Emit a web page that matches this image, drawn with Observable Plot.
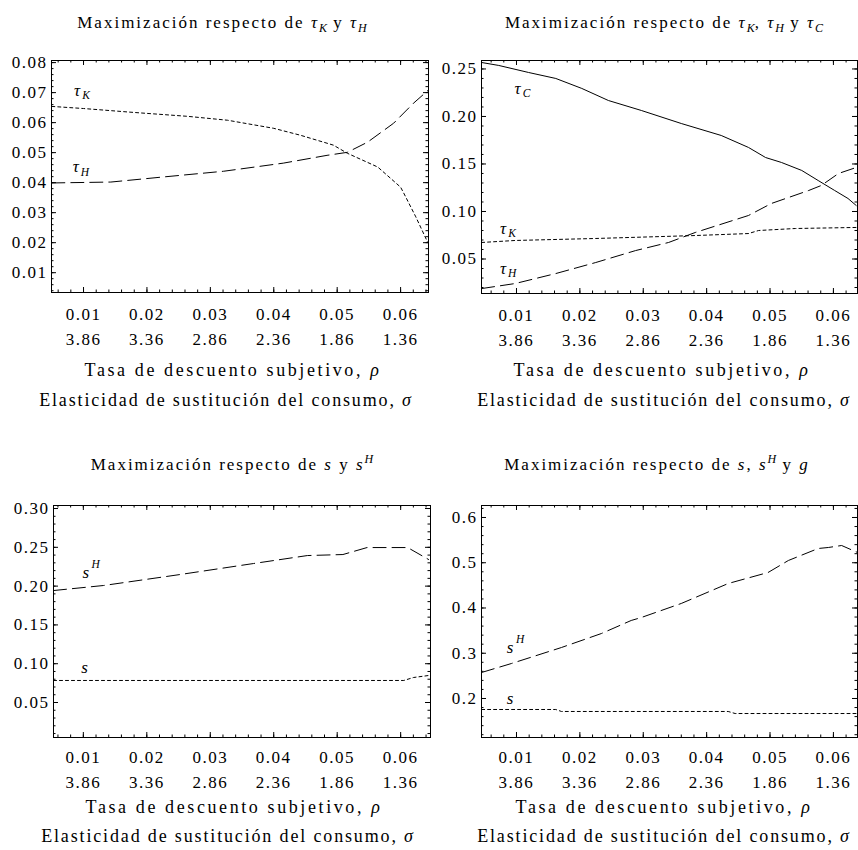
<!DOCTYPE html>
<html><head><meta charset="utf-8">
<script src="https://cdn.jsdelivr.net/npm/d3@7"></script>
<script src="https://cdn.jsdelivr.net/npm/@observablehq/plot@0.6"></script>
<style>
body{margin:0;background:#fff;}
#wrap{position:relative;width:858px;height:850px;font-family:'Liberation Serif','Times New Roman',serif;font-size:17px;letter-spacing:1.5px;color:#000;overflow:hidden;}
#wrap svg{position:absolute;}
.t{position:absolute;white-space:nowrap;transform:translate(-50%,-50%);line-height:1;}
.t sub{font-size:12px;vertical-align:-4px;line-height:0;letter-spacing:0;}
.t sup{font-size:12px;vertical-align:7px;line-height:0;letter-spacing:0;}
.title{letter-spacing:2px;}
.ax1{font-size:18px;letter-spacing:2.6px;}
.ax2{font-size:18px;letter-spacing:1.85px;}
</style></head><body><div id="wrap"></div>
<script>
// ---- shared tick labels ----
const rhoTicks = [0.01, 0.02, 0.03, 0.04, 0.05, 0.06];
const sigmaLabels = ["3.86", "3.36", "2.86", "2.36", "1.86", "1.36"];

// ---- panel 1: Maximización respecto de tau_K y tau_H ----
const p1_yTicks = [0.01, 0.02, 0.03, 0.04, 0.05, 0.06, 0.07, 0.08];
const p1_tauK_x = [0.005, 0.01, 0.0179, 0.0264, 0.0327, 0.04, 0.0442, 0.0494, 0.0516, 0.0564, 0.06, 0.0605, 0.0624, 0.0643];
const p1_tauK_y = [0.0654, 0.0647, 0.0634, 0.0621, 0.0608, 0.0581, 0.0558, 0.0525, 0.0498, 0.0452, 0.0385, 0.0365, 0.0286, 0.020];
const p1_tauH_x = [0.005, 0.0143, 0.0221, 0.0321, 0.0415, 0.0484, 0.0516, 0.0548, 0.0589, 0.062, 0.0643];
const p1_tauH_y = [0.0399, 0.0402, 0.0418, 0.0438, 0.0465, 0.0491, 0.0501, 0.0535, 0.0598, 0.0664, 0.0707];

// ---- panel 2: Maximización respecto de tau_K, tau_H y tau_C ----
const p2_yTicks = [0.05, 0.10, 0.15, 0.20, 0.25];
const p2_tauC_x = [0.0045, 0.0072, 0.0119, 0.0162, 0.0203, 0.0245, 0.0297, 0.036, 0.0423, 0.0466, 0.0493, 0.0518, 0.055, 0.0576, 0.0602, 0.0623, 0.0636];
const p2_tauC_y = [0.2568, 0.2537, 0.2463, 0.240, 0.2295, 0.2168, 0.2063, 0.1926, 0.180, 0.1674, 0.1568, 0.1516, 0.1432, 0.1326, 0.1221, 0.1137, 0.1063];
const p2_tauH_x = [0.0045, 0.0098, 0.0162, 0.0225, 0.0288, 0.034, 0.0382, 0.0466, 0.0502, 0.0561, 0.0581, 0.0608, 0.0636];
const p2_tauH_y = [0.0189, 0.0242, 0.0347, 0.0463, 0.0589, 0.0674, 0.0779, 0.0958, 0.1084, 0.1221, 0.1274, 0.140, 0.1463];
const p2_tauK_x = [0.0045, 0.0098, 0.0225, 0.0382, 0.0466, 0.0482, 0.054, 0.0636];
const p2_tauK_y = [0.0674, 0.0695, 0.0716, 0.0747, 0.0768, 0.080, 0.0821, 0.0832];

// ---- panel 3: Maximización respecto de s y s^H ----
const p3_yTicks = [0.05, 0.10, 0.15, 0.20, 0.25, 0.30];
const p3_sH_x = [0.0053, 0.0132, 0.0253, 0.0368, 0.0453, 0.0509, 0.0547, 0.0611, 0.0644];
const p3_sH_y = [0.1943, 0.2008, 0.215, 0.2291, 0.2394, 0.2407, 0.2497, 0.2497, 0.2343];
const p3_s_x = [0.0053, 0.0605, 0.062, 0.0644];
const p3_s_y = [0.0784, 0.0784, 0.0822, 0.0848];

// ---- panel 4: Maximización respecto de s, s^H y g ----
const p4_yTicks = [0.2, 0.3, 0.4, 0.5, 0.6];
const p4_sH_x = [0.0045, 0.0092, 0.0171, 0.0234, 0.0281, 0.0297, 0.036, 0.0434, 0.0497, 0.0529, 0.0576, 0.0592, 0.0613, 0.0638];
const p4_sH_y = [0.2575, 0.2773, 0.3127, 0.3436, 0.3724, 0.379, 0.410, 0.4541, 0.4785, 0.505, 0.5315, 0.5337, 0.5381, 0.5227];
const p4_s_x = [0.0045, 0.0162, 0.0171, 0.0434, 0.0445, 0.0638];
const p4_s_y = [0.1757, 0.1757, 0.1713, 0.1713, 0.1668, 0.1668];

const zip = (xs, ys) => xs.map((x, i) => ({x, y: ys[i]}));
const FONT = "'Liberation Serif', 'Times New Roman', serif";
const DOT = "3,3", DASH = "13,6";

function panel(cfg) {
  const W = cfg.width - cfg.mL - cfg.mR, H = cfg.height - cfg.mT - cfg.mB;
  const inX = d => d >= cfg.xDomain[0] && d <= cfg.xDomain[1];
  const inY = d => d >= cfg.yDomain[0] && d <= cfg.yDomain[1];
  const xMinor = d3.range(0.004, 0.066, 0.002).filter(inX);
  const yMinor = d3.range(cfg.yDomain[0] - cfg.yMinorStep, cfg.yDomain[1] + cfg.yMinorStep, cfg.yMinorStep)
    .map(v => Math.round(v / cfg.yMinorStep) * cfg.yMinorStep).filter(inY);
  const st = {stroke: "black", strokeWidth: 1};
  const marks = [
    Plot.tickX(xMinor, {x: d => d, insetTop: H - 2.5, ...st}),
    Plot.tickX(xMinor, {x: d => d, insetBottom: H - 2.5, ...st}),
    Plot.tickX(rhoTicks, {x: d => d, insetTop: H - 5, ...st}),
    Plot.tickX(rhoTicks, {x: d => d, insetBottom: H - 5, ...st}),
    Plot.tickY(yMinor, {y: d => d, insetRight: W - 2.5, ...st}),
    Plot.tickY(yMinor, {y: d => d, insetLeft: W - 2.5, ...st}),
    Plot.tickY(cfg.yTicks, {y: d => d, insetRight: W - 5, ...st}),
    Plot.tickY(cfg.yTicks, {y: d => d, insetLeft: W - 5, ...st}),
    Plot.frame({stroke: "black", strokeWidth: 1}),
    Plot.axisX({ticks: rhoTicks, tickSize: 0, tickPadding: cfg.pad1, tickFormat: d3.format(".2f"), label: null, fontSize: 17}),
    Plot.axisX({ticks: rhoTicks, tickSize: 0, tickPadding: cfg.pad2, tickFormat: d => sigmaLabels[rhoTicks.indexOf(d)], label: null, fontSize: 17}),
    Plot.axisY({ticks: cfg.yTicks, tickSize: 0, tickPadding: 4, tickFormat: d3.format(cfg.yFmt), label: null, fontSize: 17}),
  ];
  for (const s of cfg.series) {
    marks.push(Plot.line(zip(s.x, s.y), {x: "x", y: "y", stroke: "black", strokeWidth: 1, strokeDasharray: s.dash}));
  }
  for (const l of cfg.labels) {
    marks.push(Plot.text([l], {x: "x", y: "y", text: "main", fontStyle: "italic", fontSize: 17, textAnchor: "middle"}));
    marks.push(Plot.text([l], {x: "x", y: "y", text: "idx", fontStyle: "italic", fontSize: 11.5, textAnchor: "middle", dx: l.sup ? 10 : 9, dy: l.sup ? -8 : 5}));
  }
  const svg = Plot.plot({
    width: cfg.width, height: cfg.height,
    marginLeft: cfg.mL, marginRight: cfg.mR, marginTop: cfg.mT, marginBottom: cfg.mB,
    x: {domain: cfg.xDomain},
    y: {domain: cfg.yDomain},
    style: {fontFamily: FONT, fontSize: "17px", letterSpacing: "1.5px", background: "transparent", overflow: "visible", color: "black"},
    marks
  });
  svg.style.left = cfg.left + "px";
  svg.style.top = cfg.top + "px";
  return svg;
}

const wrap = document.getElementById("wrap");
const panels = [
  {left: 0, top: 0, width: 430, height: 360, mL: 51, mR: 2, mT: 60, mB: 68, pad1: 15, pad2: 40,
   xDomain: [0.00495, 0.0644], yDomain: [0.0034, 0.0807], yTicks: p1_yTicks, yMinorStep: 0.002, yFmt: ".2f",
   series: [{x: p1_tauK_x, y: p1_tauK_y, dash: DOT}, {x: p1_tauH_x, y: p1_tauH_y, dash: DASH}],
   labels: [{x: 0.0091, y: 0.0707, main: "τ", idx: "K"}, {x: 0.0089, y: 0.0452, main: "τ", idx: "H"}]},
  {left: 429, top: 0, width: 429, height: 360, mL: 52, mR: 1, mT: 60, mB: 67, pad1: 15, pad2: 40,
   xDomain: [0.00448, 0.0638], yDomain: [0.0137, 0.2589], yTicks: p2_yTicks, yMinorStep: 0.01, yFmt: ".2f",
   series: [{x: p2_tauC_x, y: p2_tauC_y, dash: null}, {x: p2_tauH_x, y: p2_tauH_y, dash: DASH}, {x: p2_tauK_x, y: p2_tauK_y, dash: DOT}],
   labels: [{x: 0.0103, y: 0.2295, main: "τ", idx: "C"}, {x: 0.0080, y: 0.0821, main: "τ", idx: "K"}, {x: 0.0080, y: 0.040, main: "τ", idx: "H"}]},
  {left: 0, top: 445, width: 432, height: 360, mL: 53, mR: 2, mT: 60, mB: 68, pad1: 13, pad2: 38,
   xDomain: [0.0053, 0.0647], yDomain: [0.0049, 0.3039], yTicks: p3_yTicks, yMinorStep: 0.01, yFmt: ".2f",
   series: [{x: p3_sH_x, y: p3_sH_y, dash: DASH}, {x: p3_s_x, y: p3_s_y, dash: DOT}],
   labels: [{x: 0.0105, y: 0.2175, main: "s", idx: "H", sup: true}, {x: 0.0103, y: 0.095, main: "s", idx: ""}]},
  {left: 429, top: 445, width: 429, height: 360, mL: 52, mR: 1, mT: 60, mB: 68, pad1: 13, pad2: 38,
   xDomain: [0.00448, 0.0638], yDomain: [0.1138, 0.6265], yTicks: p4_yTicks, yMinorStep: 0.02, yFmt: ".1f",
   series: [{x: p4_sH_x, y: p4_sH_y, dash: DASH}, {x: p4_s_x, y: p4_s_y, dash: DOT}],
   labels: [{x: 0.0091, y: 0.3127, main: "s", idx: "H", sup: true}, {x: 0.0091, y: 0.200, main: "s", idx: ""}]}
];
for (const p of panels) wrap.appendChild(panel(p));

const texts = [
  {x: 222, y: 22, c: "title", html: 'Maximización respecto de <i>τ</i><sub><i>K</i></sub> y <i>τ</i><sub><i>H</i></sub>'},
  {x: 664, y: 22, c: "title", html: 'Maximización respecto de <i>τ</i><sub><i>K</i></sub>, <i>τ</i><sub><i>H</i></sub> y <i>τ</i><sub><i>C</i></sub>'},
  {x: 232, y: 464, c: "title", html: 'Maximización respecto de <i>s</i> y <i>s</i><sup><i>H</i></sup>'},
  {x: 657, y: 464, c: "title", html: 'Maximización respecto de <i>s</i>, <i>s</i><sup><i>H</i></sup> y <i>g</i>'},
  {x: 233, y: 370, c: "ax1", html: 'Tasa de descuento subjetivo, <i>ρ</i>'},
  {x: 226, y: 400, c: "ax2", html: 'Elasticidad de sustitución del consumo, <i>σ</i>'},
  {x: 662, y: 370, c: "ax1", html: 'Tasa de descuento subjetivo, <i>ρ</i>'},
  {x: 664, y: 400, c: "ax2", html: 'Elasticidad de sustitución del consumo, <i>σ</i>'},
  {x: 234, y: 807, c: "ax1", html: 'Tasa de descuento subjetivo, <i>ρ</i>'},
  {x: 228, y: 836, c: "ax2", html: 'Elasticidad de sustitución del consumo, <i>σ</i>'},
  {x: 664, y: 807, c: "ax1", html: 'Tasa de descuento subjetivo, <i>ρ</i>'},
  {x: 664, y: 836, c: "ax2", html: 'Elasticidad de sustitución del consumo, <i>σ</i>'}
];
for (const t of texts) {
  const d = document.createElement("div");
  d.className = "t " + t.c;
  d.style.left = t.x + "px";
  d.style.top = t.y + "px";
  d.innerHTML = t.html;
  wrap.appendChild(d);
}
</script></body></html>
